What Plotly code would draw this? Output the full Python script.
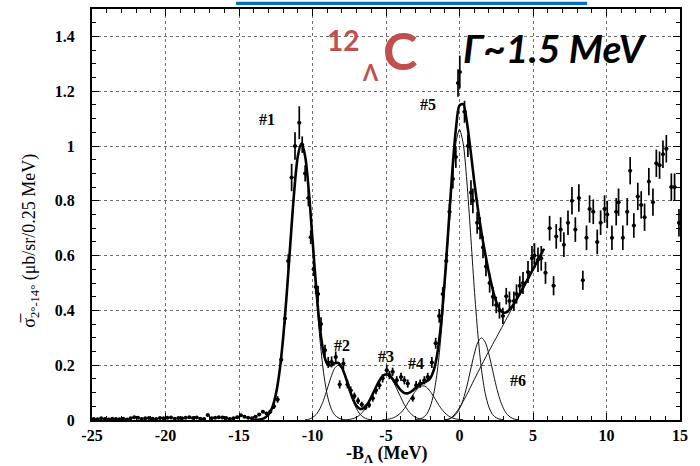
import plotly.graph_objects as go

def grid(start, n, step=0.25):
    return [round(start + step * i, 4) for i in range(n)]

# ---------------- measured data points ----------------
flat_x = grid(-24.875, 48)
flat_y = [0.004, 0.003, 0.006, 0.004, 0.002, 0.005, 0.004, 0.003, 0.005, 0.002,
          0.006, 0.010, 0.008, 0.004, 0.006, 0.007, 0.005, 0.004, 0.007, 0.006,
          0.008, 0.009, 0.005, 0.007, 0.006, 0.008, 0.010, 0.007, 0.009, 0.005,
          0.004, 0.018, 0.006, 0.008, 0.010, 0.009, 0.007, 0.004, 0.006, 0.010,
          0.017, 0.012, 0.008, 0.006, 0.012, 0.020, 0.030, 0.024]
flat_e = [0.004] * len(flat_x)

peak_x = [-12.875, -12.625, -12.375, -12.125, -11.875, -11.65, -11.42, -11.19, -10.9, -10.7,
          -10.5, -10.28, -10.12, -9.92, -9.78, -9.62, -9.42, -9.15, -8.93, -8.7,
          -8.42, -8.15, -7.9, -7.62, -7.4, -7.15, -6.9, -6.65, -6.4, -6.15,
          -5.9, -5.68, -5.45, -5.23, -4.95, -4.77, -4.55, -4.27, -3.98, -3.75,
          -3.52, -3.18, -2.95, -2.68, -2.39, -2.16, -1.88, -1.62, -1.38, -1.14,
          -0.9, -0.68, -0.45, -0.25, -0.1, 0.02, 0.34, 0.57, 0.78, 0.91,
          1.2, 1.4, 1.6, 1.8, 2.05, 2.27, 2.5, 2.72, 2.95, 3.18,
          3.4, 3.7, 3.88, 4.1, 4.32, 4.66, 4.93, 5.1, 5.34, 5.56, 5.85]
peak_y = [0.03, 0.05, 0.075, 0.22, 0.37, 0.58, 0.885, 1.0, 1.085, 1.005,
          0.90, 0.81, 0.667, 0.55, 0.485, 0.46, 0.35, 0.255, 0.21, 0.212,
          0.23, 0.13, 0.206, 0.13, 0.108, 0.088, 0.07, 0.057, 0.046, 0.055,
          0.079, 0.109, 0.127, 0.152, 0.182, 0.164, 0.176, 0.145, 0.157, 0.145,
          0.133, 0.079, 0.127, 0.133, 0.145, 0.157, 0.21, 0.28, 0.38, 0.46,
          0.58, 0.76, 0.88, 0.96, 1.23, 1.27, 1.125, 1.0, 0.83, 0.80,
          0.72, 0.70, 0.63, 0.56, 0.50, 0.45, 0.42, 0.40, 0.38, 0.452,
          0.434, 0.434, 0.46, 0.49, 0.50, 0.54, 0.59, 0.60, 0.585, 0.59, 0.537]
peak_e = [0.008, 0.01, 0.012, 0.015, 0.02, 0.025, 0.05, 0.05, 0.06, 0.03,
          0.03, 0.03, 0.025, 0.025, 0.025, 0.03, 0.025, 0.02, 0.02, 0.02,
          0.02, 0.015, 0.02, 0.015, 0.015, 0.012, 0.012, 0.01, 0.01, 0.01,
          0.012, 0.015, 0.015, 0.015, 0.02, 0.015, 0.015, 0.015, 0.015, 0.015,
          0.015, 0.012, 0.015, 0.015, 0.015, 0.015, 0.02, 0.02, 0.025, 0.025,
          0.03, 0.03, 0.035, 0.04, 0.05, 0.06, 0.04, 0.04, 0.045, 0.045,
          0.04, 0.04, 0.04, 0.035, 0.035, 0.035, 0.03, 0.03, 0.03, 0.03,
          0.035, 0.035, 0.035, 0.035, 0.04, 0.04, 0.045, 0.045, 0.045, 0.045, 0.04]

right_x = [6.13, 6.4, 6.58, 6.88, 7.1, 7.38, 7.65, 7.88, 8.12, 8.39,
           8.64, 8.85, 9.1, 9.37, 9.6, 9.87, 10.05, 10.37, 10.66, 10.82,
           11.11, 11.41, 11.61, 11.86, 12.13, 12.36, 12.59, 12.88, 13.16, 13.39,
           13.61, 13.84, 14.07, 14.41, 14.63, 14.93]
right_y = [0.70, 0.49, 0.67, 0.695, 0.64, 0.72, 0.80, 0.695, 0.81, 0.51,
           0.665, 0.77, 0.76, 0.65, 0.72, 0.77, 0.75, 0.665, 0.76, 0.795,
           0.665, 0.76, 0.91, 0.71, 0.816, 0.785, 0.74, 0.87, 0.795, 0.937,
           0.93, 0.97, 0.99, 0.85, 0.85, 0.72]
right_e = [0.045, 0.035, 0.045, 0.045, 0.045, 0.045, 0.05, 0.045, 0.05, 0.035,
           0.045, 0.05, 0.045, 0.045, 0.045, 0.05, 0.05, 0.045, 0.05, 0.05,
           0.045, 0.05, 0.05, 0.045, 0.05, 0.05, 0.05, 0.05, 0.05, 0.05,
           0.05, 0.05, 0.05, 0.05, 0.05, 0.05]

# ---------------- fitted curves (sampled every 0.25 MeV) ----------------
c1_x = grid(-13.75, 25)
c1_y = [0.001, 0.003, 0.008, 0.019, 0.044, 0.092, 0.174, 0.298, 0.463, 0.650,
        0.831, 0.962, 1.010, 0.962, 0.831, 0.650, 0.463, 0.298, 0.174, 0.092,
        0.044, 0.019, 0.008, 0.003, 0.001]
c2_x = grid(-10.5, 19)
c2_y = [0.001, 0.003, 0.009, 0.020, 0.041, 0.072, 0.113, 0.155, 0.188, 0.200,
        0.188, 0.155, 0.113, 0.072, 0.041, 0.020, 0.009, 0.003, 0.001]
c3_x = grid(-7.75, 23)
c3_y = [0.001, 0.002, 0.005, 0.010, 0.020, 0.035, 0.056, 0.083, 0.112, 0.139,
        0.158, 0.165, 0.158, 0.139, 0.112, 0.083, 0.056, 0.035, 0.020, 0.010,
        0.005, 0.002, 0.001]
c4_x = grid(-5.25, 23)
c4_y = [0.001, 0.002, 0.004, 0.008, 0.015, 0.026, 0.042, 0.063, 0.085, 0.105,
        0.120, 0.125, 0.120, 0.105, 0.085, 0.063, 0.042, 0.026, 0.015, 0.008,
        0.004, 0.002, 0.001]
c5_x = grid(-3.0, 25)
c5_y = [0.001, 0.003, 0.008, 0.020, 0.047, 0.097, 0.182, 0.313, 0.485, 0.683,
        0.872, 1.009, 1.060, 1.009, 0.872, 0.683, 0.485, 0.313, 0.182, 0.097,
        0.047, 0.020, 0.008, 0.003, 0.001]
c6_x = grid(-1.0, 21)
c6_y = [0.001, 0.003, 0.009, 0.020, 0.041, 0.075, 0.123, 0.182, 0.240, 0.284,
        0.300, 0.284, 0.240, 0.182, 0.123, 0.075, 0.041, 0.020, 0.009, 0.003, 0.001]
bg_x = grid(-1.0, 28)
bg_y = [0.0, 0.003, 0.011, 0.026, 0.045, 0.068, 0.093, 0.120, 0.147, 0.174,
        0.200, 0.226, 0.251, 0.276, 0.300, 0.325, 0.350, 0.375, 0.400, 0.425,
        0.450, 0.475, 0.500, 0.525, 0.550, 0.575, 0.600, 0.625]
tot_x = grid(-14.0, 80)
tot_y = [0.0, 0.001, 0.003, 0.008, 0.019, 0.044, 0.092, 0.174, 0.298, 0.463,
         0.650, 0.831, 0.962, 1.010, 0.963, 0.834, 0.659, 0.483, 0.339, 0.246,
         0.205, 0.199, 0.207, 0.208, 0.191, 0.157, 0.115, 0.077, 0.051, 0.040,
         0.044, 0.059, 0.084, 0.112, 0.139, 0.159, 0.167, 0.162, 0.147, 0.127,
         0.109, 0.098, 0.098, 0.105, 0.116, 0.128, 0.135, 0.141, 0.152, 0.182,
         0.245, 0.355, 0.512, 0.704, 0.900, 1.059, 1.148, 1.153, 1.088, 0.985,
         0.872, 0.771, 0.682, 0.607, 0.538, 0.478, 0.431, 0.403, 0.392, 0.395,
         0.409, 0.428, 0.451, 0.475, 0.500, 0.525, 0.550, 0.575, 0.600, 0.625]

# ---------------- axes / labels ----------------
x_ticks = [-25, -20, -15, -10, -5, 0, 5, 10, 15]
x_tick_text = ["-25", "-20", "-15", "-10", "-5", "0", "5", "10", "15"]
y_ticks = [0, 0.2, 0.4, 0.6, 0.8, 1.0, 1.2, 1.4]
y_tick_text = ["0", "0.2", "0.4", "0.6", "0.8", "1", "1.2", "1.4"]

peak_labels = ["#1", "#2", "#3", "#4", "#5", "#6"]
peak_label_x = [-13.1, -8.0, -5.0, -2.96, -2.14, 3.98]
peak_label_y = [1.098, 0.273, 0.23, 0.207, 1.153, 0.145]

fig = go.Figure()

thin = dict(color="#111111", width=1, shape="spline", smoothing=0.8)
for cx, cy in [(c1_x, c1_y), (c2_x, c2_y), (c3_x, c3_y), (c4_x, c4_y),
               (c5_x, c5_y), (c6_x, c6_y), (bg_x, bg_y)]:
    fig.add_trace(go.Scatter(x=cx, y=cy, mode="lines", line=thin,
                             hoverinfo="skip", showlegend=False))

fig.add_trace(go.Scatter(x=tot_x, y=tot_y, mode="lines",
                         line=dict(color="black", width=2.6, shape="spline", smoothing=0.8),
                         showlegend=False))

data_x = flat_x + peak_x + right_x
data_y = flat_y + peak_y + right_y
data_e = flat_e + peak_e + right_e
fig.add_trace(go.Scatter(
    x=data_x, y=data_y, mode="markers",
    marker=dict(color="black", size=4),
    error_y=dict(type="data", array=data_e, visible=True, color="black", thickness=1.7, width=0),
    error_x=dict(type="constant", value=0.13, visible=True, color="black", thickness=1.3, width=0),
    cliponaxis=False, showlegend=False))

serif = "Liberation Serif, Times New Roman, serif"
axis_common = dict(
    ticks="inside", ticklen=7, tickwidth=1.4, tickcolor="black",
    showline=True, linewidth=2, linecolor="black", mirror="allticks",
    showgrid=True, gridcolor="#707070", griddash="dot", gridwidth=1,
    zeroline=False,
    tickfont=dict(family=serif, size=16, color="black", weight="bold"),
)

fig.update_xaxes(range=[-25, 15], tickvals=x_ticks, ticktext=x_tick_text,
                 minor=dict(ticks="inside", ticklen=4, tickwidth=1, dtick=1,
                            tickcolor="black", showgrid=False),
                 ticklabelstandoff=0, **axis_common)
fig.update_yaxes(range=[0, 1.5], tickvals=y_ticks, ticktext=y_tick_text,
                 minor=dict(ticks="inside", ticklen=4, tickwidth=1, dtick=0.05,
                            tickcolor="black", showgrid=False),
                 ticklabelstandoff=12, **axis_common)

annotations = []
for t, lx, ly in zip(peak_labels, peak_label_x, peak_label_y):
    annotations.append(dict(x=lx, y=ly, xref="x", yref="y", text="<b>" + t + "</b>",
                            showarrow=False, xanchor="center", yanchor="middle",
                            font=dict(family=serif, size=16, color="black")))

red = "#C0504D"
sans = "Lato, Open Sans, sans-serif"
center = dict(xanchor="center", yanchor="middle", showarrow=False)
annotations += [
    dict(xref="paper", yref="paper", x=0.427, y=0.925, text="<b>12</b>",
         font=dict(family=sans, size=28, color=red), **center),
    dict(xref="paper", yref="paper", x=0.473, y=0.845, text="<b>Λ</b>",
         font=dict(family=sans, size=22, color=red), **center),
    dict(xref="paper", yref="paper", x=0.524, y=0.9, text="<b>C</b>",
         font=dict(family=sans, size=52, color=red), **center),
    dict(xref="paper", yref="paper", x=0.787, y=0.906, text="<b><i>Γ~1.5 MeV</i></b>",
         font=dict(family=sans, size=39, color="black"), **center),
    dict(xref="paper", yref="paper", x=-0.104, y=0.436, textangle=-90,
         text="σ\u0305<sub>2°-14°</sub> (μb/sr/0.25 MeV)",
         font=dict(family=serif, size=18, color="black"), **center),
    dict(xref="paper", yref="paper", x=0.502, y=-0.084,
         text="<b>-B<sub>Λ</sub> (MeV)</b>",
         font=dict(family=serif, size=18, color="black"), **center),
]

fig.update_layout(
    width=700, height=466,
    margin=dict(l=92, r=20, t=7, b=46),
    paper_bgcolor="white", plot_bgcolor="white",
    annotations=annotations,
    shapes=[dict(type="rect", xref="paper", yref="paper",
                 x0=0.245, x1=0.842, y0=1.0097, y1=1.0175,
                 fillcolor="#0070C0", line=dict(width=0), layer="above")],
)

fig.write_html("out.html")
